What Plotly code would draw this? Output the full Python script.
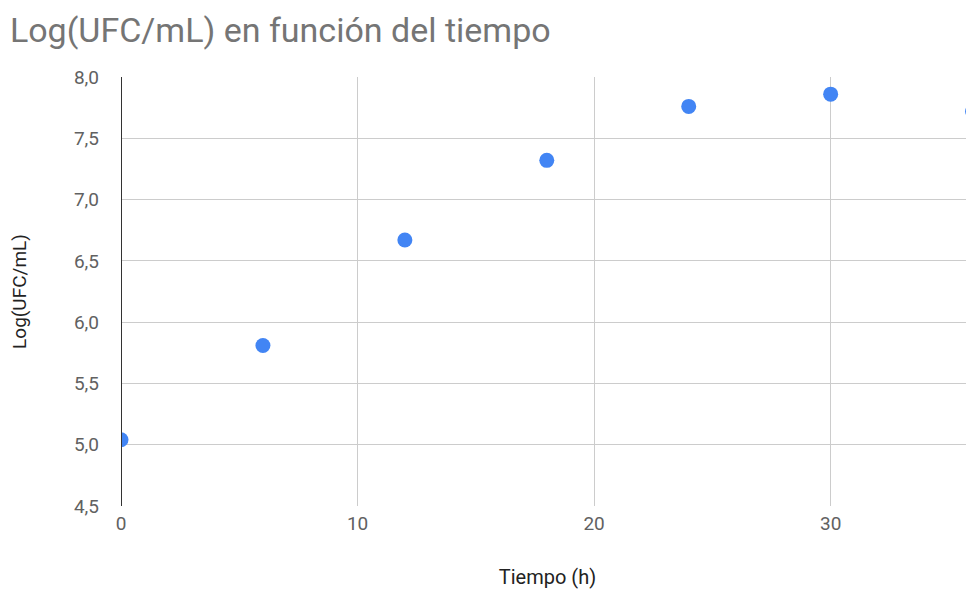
import plotly.graph_objects as go

tiempo_h = [0, 6, 12, 18, 24, 30, 36]
log_ufc = [5.04, 5.81, 6.67, 7.32, 7.76, 7.86, 7.72]

x_ticks = [0, 10, 20, 30]
y_ticks = [4.5, 5.0, 5.5, 6.0, 6.5, 7.0, 7.5, 8.0]

fig = go.Figure()
fig.add_trace(go.Scatter(
    x=tiempo_h, y=log_ufc, mode="markers",
    marker=dict(color="#4285F4", size=15, line=dict(width=0)),
    cliponaxis=True, showlegend=False,
))

fig.update_layout(
    width=966, height=593,
    margin=dict(l=113, r=0, t=69, b=95),
    paper_bgcolor="white", plot_bgcolor="white",
    font=dict(family="Roboto", color="#616161", size=19),
    separators=",.",
    title=dict(text="Log(UFC/mL) en función del tiempo", x=0.002, xanchor="left",
               y=0.963, yanchor="middle",
               font=dict(family="Roboto", size=34, color="#757575")),
)
fig.update_xaxes(
    range=[0, 36.06], tickvals=x_ticks, showgrid=True, gridcolor="#cccccc", gridwidth=1,
    zeroline=False, showline=False, ticks="", ticklabelstandoff=4,
    title=dict(text="Tiempo (h)", font=dict(size=20, color="#222222"), standoff=35),
)
fig.update_yaxes(
    range=[4.5, 8.0], tickvals=y_ticks, tickformat=".1f", showgrid=True,
    gridcolor="#cccccc", gridwidth=1, zeroline=False, showline=False, ticks="",
    ticklabelstandoff=21,
    title=dict(text="Log(UFC/mL)", font=dict(size=19, color="#222222"), standoff=42),
)
# dark vertical baseline at x=0
fig.add_shape(type="line", xref="x", yref="y", x0=0, x1=0, y0=4.5, y1=8.0,
              line=dict(color="#333333", width=2), layer="above")

fig.write_html("out.html")
